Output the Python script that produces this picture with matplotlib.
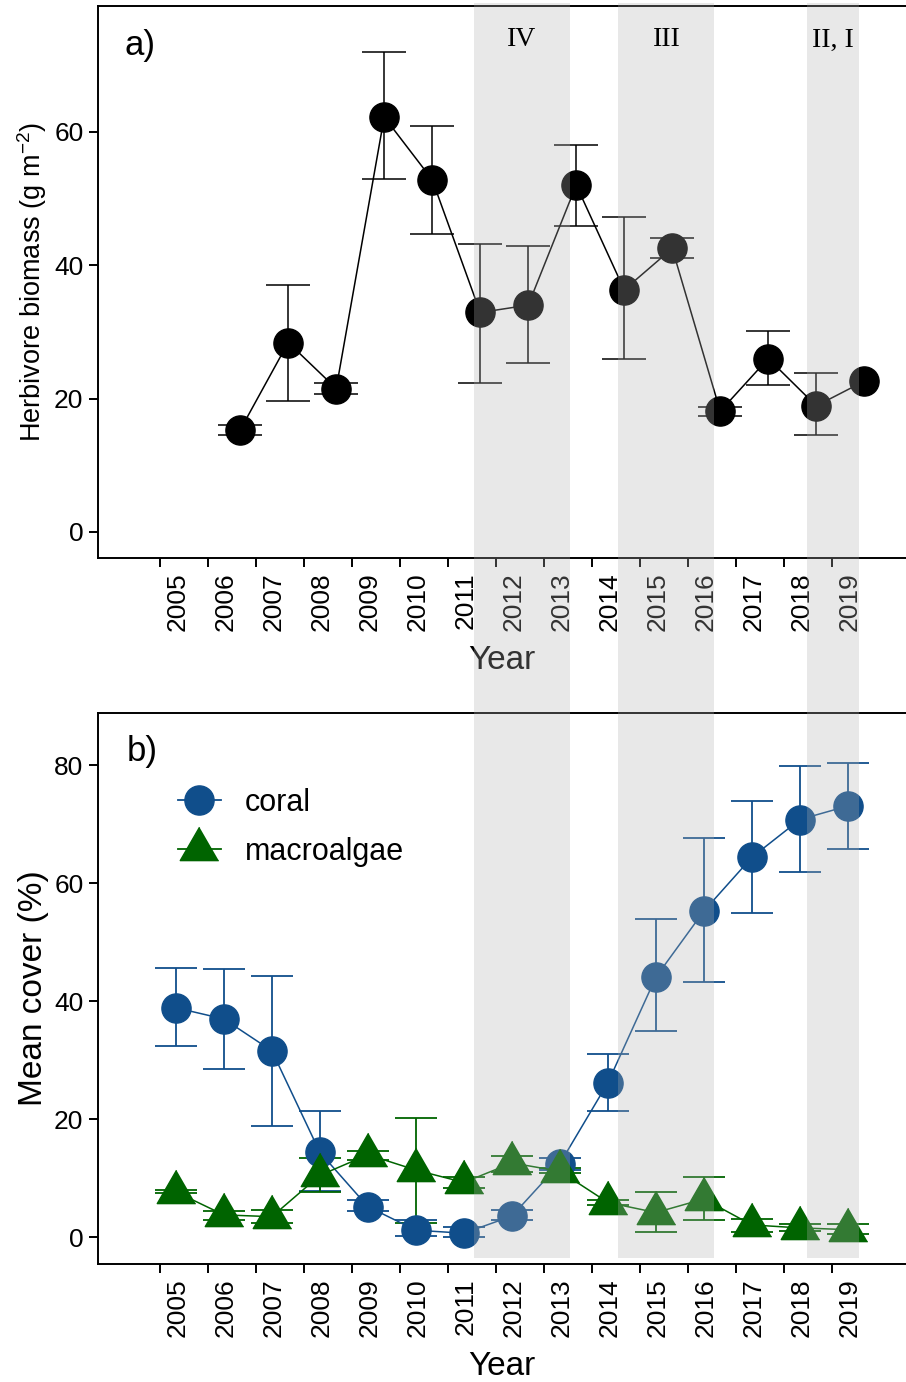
import numpy as np
import matplotlib
matplotlib.use("Agg")
import matplotlib.pyplot as plt
from matplotlib.patches import Rectangle
from matplotlib.lines import Line2D
from matplotlib.transforms import blended_transform_factory

plt.rcParams['font.family'] = ['Liberation Sans', 'DejaVu Sans']
plt.rcParams['mathtext.fontset'] = 'custom'
plt.rcParams['mathtext.rm'] = 'Liberation Sans'
plt.rcParams['mathtext.it'] = 'Liberation Sans:italic'

# x tick years (both panels)
tick_years = list(range(2005, 2020))

# panel a: herbivore biomass (points sit 2/3 of a year after the tick)
herb_x = [2006.67, 2007.67, 2008.67, 2009.67, 2010.67, 2011.67, 2012.67,
          2013.67, 2014.67, 2015.67, 2016.67, 2017.67, 2018.67, 2019.67]
herb_y = [15.3, 28.4, 21.5, 62.2, 52.8, 32.9, 34.0, 52.0, 36.3, 42.5, 18.1, 26.0, 18.9, 22.6]
herb_hi = [16.1, 37.0, 22.4, 71.9, 60.8, 43.2, 42.9, 58.0, 47.2, 44.1, 18.8, 30.1, 23.9, np.nan]
herb_lo = [14.5, 19.7, 20.7, 52.9, 44.6, 22.4, 25.3, 45.8, 25.9, 41.0, 17.4, 22.1, 14.5, np.nan]

# panel b: benthic cover (points sit 1/3 of a year after the tick)
cover_x = [2005.33, 2006.33, 2007.33, 2008.33, 2009.33, 2010.33, 2011.33, 2012.33,
           2013.33, 2014.33, 2015.33, 2016.33, 2017.33, 2018.33, 2019.33]
coral_y = [38.9, 37.0, 31.6, 14.4, 5.2, 1.2, 0.7, 3.6, 12.5, 26.2, 44.1, 55.3, 64.4, 70.8, 73.1]
coral_hi = [45.6, 45.5, 44.3, 21.4, 6.3, 3.0, 1.8, 4.6, 13.4, 31.0, 53.9, 67.7, 73.9, 79.9, 80.3]
coral_lo = [32.4, 28.5, 18.9, 7.8, 4.5, 0.2, 0.0, 2.9, 11.4, 21.4, 35.0, 43.3, 54.9, 61.9, 65.8]
macro_y = [7.7, 3.8, 3.5, 10.5, 14.0, 11.4, 9.3, 12.6, 11.2, 5.9, 4.2, 6.5, 2.1, 1.6, 1.3]
macro_hi = [8.0, 4.5, 4.7, 13.4, 14.7, 20.3, 10.3, 13.8, 11.7, 6.3, 7.7, 10.3, 3.1, 2.2, 2.2]
macro_lo = [7.5, 3.0, 2.5, 7.7, 13.1, 2.5, 8.3, 11.0, 10.9, 5.5, 0.95, 2.9, 0.95, 1.07, 0.55]

# shaded periods and their labels
periods = [(2011.53, 2013.55), (2014.55, 2016.55), (2018.47, 2019.57)]
period_labels = ["IV", "III", "II, I"]

coral_col = "#104E8B"
macro_col = "#006400"
tri = [(0, 1), (-0.866, -0.5), (0.866, -0.5)]  # triangle centred on its centroid

fig = plt.figure(figsize=(9.06, 13.82), dpi=100)
ax1 = fig.add_axes([0.1082, 0.59624, 0.8918, 0.39942])
ax2 = fig.add_axes([0.1082, 0.08538, 0.8918, 0.39891])

def yerr(y, lo, hi):
    y = np.array(y)
    return [y - np.array(lo), np.array(hi) - y]

ax1.errorbar(herb_x, herb_y, yerr=yerr(herb_y, herb_lo, herb_hi), fmt='-o', color='black',
             ms=21, lw=1.1, elinewidth=1.1, capsize=16, capthick=1.1)

ax2.errorbar(cover_x, coral_y, yerr=yerr(coral_y, coral_lo, coral_hi), fmt='-o', color=coral_col,
             ms=21, lw=1.1, elinewidth=1.3, capsize=15, capthick=1.3)
ax2.errorbar(cover_x, macro_y, yerr=yerr(macro_y, macro_lo, macro_hi), fmt='-', marker=tri,
             color=macro_col, ms=32, lw=1.1, elinewidth=1.3, capsize=15, capthick=1.3)

ax1.set_ylim(-3.90, 78.84)
ax2.set_ylim(-4.52, 88.90)
ax1.set_yticks([0, 20, 40, 60])
ax2.set_yticks([0, 20, 40, 60, 80])
ax1.set_ylabel("Herbivore biomass (g m$^{-2}$)", fontsize=19.5, labelpad=4)
ax2.set_ylabel("Mean cover (%)", fontsize=24, labelpad=4)

for ax in (ax1, ax2):
    ax.set_xlim(2003.708, 2020.54)
    # tick marks on the years, labels drawn a little to the right of each mark
    ax.set_xticks(tick_years)
    ax.set_xticklabels([])
    ax.set_xticks([t + 0.36 for t in tick_years], minor=True)
    ax.set_xticklabels([str(t) for t in tick_years], minor=True, rotation=90,
                       va='top', ha='center')
    ax.tick_params(axis='x', which='minor', length=0, pad=10.5, labelsize=19)
    ax.set_xlabel("Year", fontsize=24, labelpad=10)
    ax.tick_params(which='major', labelsize=19, length=6.5, width=1.4, pad=4, color='black')
    ax.spines['right'].set_visible(False)
    for s in ('left', 'top', 'bottom'):
        ax.spines[s].set_linewidth(1.4)

ax1.text(0.033, 0.929, "a)", transform=ax1.transAxes, fontsize=25, va='center', ha='left')
ax2.text(0.036, 0.929, "b)", transform=ax2.transAxes, fontsize=25, va='center', ha='left')

handles = [Line2D([], [], color=coral_col, marker='o', ms=21, lw=1.3),
           Line2D([], [], color=macro_col, marker=tri, ms=32, lw=1.3)]
ax2.legend(handles, ["coral", "macroalgae"], loc='center left', bbox_to_anchor=(0.099, 0.792),
           frameon=False, fontsize=22, handlelength=1.4, handletextpad=0.8, borderpad=0,
           labelspacing=0.62, borderaxespad=0)

# grey bands drawn over everything, running through both panels
btrans = blended_transform_factory(ax2.transData, fig.transFigure)
y0 = 1 - 1258 / 1382
y1 = 1 - 3 / 1382
for (a, b), lab in zip(periods, period_labels):
    fig.add_artist(Rectangle((a, y0), b - a, y1 - y0, transform=btrans,
                             facecolor=(176 / 255, 176 / 255, 176 / 255), alpha=0.29,
                             edgecolor='none', zorder=10))
    fig.text((a + b) / 2, 1 - 40 / 1382, lab, transform=btrans, ha='center', va='center',
             fontsize=20, family='Liberation Serif', zorder=12)

fig.savefig("out.png", dpi=100)
